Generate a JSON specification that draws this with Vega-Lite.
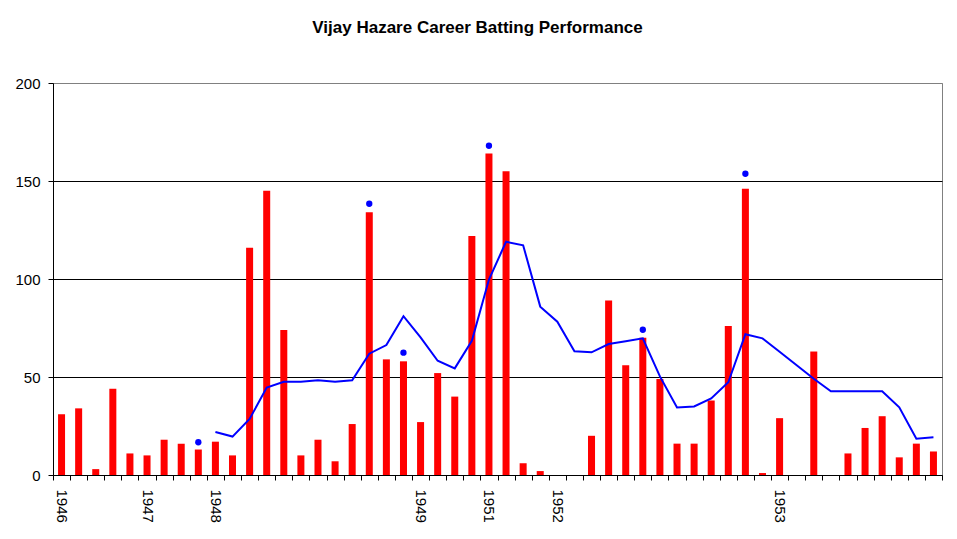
{
  "$schema": "https://vega.github.io/schema/vega-lite/v6.json",
  "description": "Vijay Hazare career batting performance",
  "autosize": "none",
  "width": 889,
  "height": 392,
  "padding": {"left": 53, "top": 83, "right": 15, "bottom": 64},
  "background": "white",
  "title": {
    "text": "Vijay Hazare Career Batting Performance",
    "font": "Liberation Sans",
    "fontSize": 17,
    "fontWeight": "bold",
    "color": "black",
    "anchor": "middle",
    "baseline": "alphabetic",
    "offset": 26,
    "dx": -20
  },
  "config": {
    "view": {"stroke": "#808080", "strokeWidth": 1},
    "axis": {
      "labelFont": "Liberation Sans",
      "labelFontSize": 15,
      "labelColor": "black",
      "domainColor": "black",
      "tickColor": "black",
      "tickSize": 5
    }
  },
  "data": {
    "values": [
      {"inn": 1, "score": 31, "marker": null, "avg": null},
      {"inn": 2, "score": 34, "marker": null, "avg": null},
      {"inn": 3, "score": 3, "marker": null, "avg": null},
      {"inn": 4, "score": 44, "marker": null, "avg": null},
      {"inn": 5, "score": 11, "marker": null, "avg": null},
      {"inn": 6, "score": 10, "marker": null, "avg": null},
      {"inn": 7, "score": 18, "marker": null, "avg": null},
      {"inn": 8, "score": 16, "marker": null, "avg": null},
      {"inn": 9, "score": 13, "marker": 16.7, "avg": null},
      {"inn": 10, "score": 17, "marker": null, "avg": 21.9},
      {"inn": 11, "score": 10, "marker": null, "avg": 19.6},
      {"inn": 12, "score": 116, "marker": null, "avg": 28.6},
      {"inn": 13, "score": 145, "marker": null, "avg": 44.6},
      {"inn": 14, "score": 74, "marker": null, "avg": 47.6},
      {"inn": 15, "score": 10, "marker": null, "avg": 47.6},
      {"inn": 16, "score": 18, "marker": null, "avg": 48.3},
      {"inn": 17, "score": 7, "marker": null, "avg": 47.6},
      {"inn": 18, "score": 26, "marker": null, "avg": 48.3},
      {"inn": 19, "score": 134, "marker": 138.4, "avg": 61.9},
      {"inn": 20, "score": 59, "marker": null, "avg": 66.3},
      {"inn": 21, "score": 58, "marker": 62.4, "avg": 81},
      {"inn": 22, "score": 27, "marker": null, "avg": 70.2},
      {"inn": 23, "score": 52, "marker": null, "avg": 58.3},
      {"inn": 24, "score": 40, "marker": null, "avg": 54.4},
      {"inn": 25, "score": 122, "marker": null, "avg": 68.5},
      {"inn": 26, "score": 164, "marker": 168, "avg": 99.7},
      {"inn": 27, "score": 155, "marker": null, "avg": 119},
      {"inn": 28, "score": 6, "marker": null, "avg": 117.2},
      {"inn": 29, "score": 2, "marker": null, "avg": 85.9},
      {"inn": 30, "score": 0, "marker": null, "avg": 78.2},
      {"inn": 31, "score": 0, "marker": null, "avg": 63.1},
      {"inn": 32, "score": 20, "marker": null, "avg": 62.6},
      {"inn": 33, "score": 89, "marker": null, "avg": 66.8},
      {"inn": 34, "score": 56, "marker": null, "avg": 68.2},
      {"inn": 35, "score": 70, "marker": 74.1, "avg": 69.7},
      {"inn": 36, "score": 49, "marker": null, "avg": 50.3},
      {"inn": 37, "score": 16, "marker": null, "avg": 34.5},
      {"inn": 38, "score": 16, "marker": null, "avg": 35},
      {"inn": 39, "score": 38, "marker": null, "avg": 39.1},
      {"inn": 40, "score": 76, "marker": null, "avg": 47.3},
      {"inn": 41, "score": 146, "marker": 153.7, "avg": 71.8},
      {"inn": 42, "score": 1, "marker": null, "avg": 69.7},
      {"inn": 43, "score": 29, "marker": null, "avg": 62.9},
      {"inn": 44, "score": 0, "marker": null, "avg": 56},
      {"inn": 45, "score": 63, "marker": null, "avg": 49.1},
      {"inn": 46, "score": 0, "marker": null, "avg": 42.7},
      {"inn": 47, "score": 11, "marker": null, "avg": 42.7},
      {"inn": 48, "score": 24, "marker": null, "avg": 42.7},
      {"inn": 49, "score": 30, "marker": null, "avg": 42.7},
      {"inn": 50, "score": 9, "marker": null, "avg": 34.5},
      {"inn": 51, "score": 16, "marker": null, "avg": 18.5},
      {"inn": 52, "score": 12, "marker": null, "avg": 19.2}
    ]
  },
  "encoding": {
    "x": {
      "field": "inn",
      "type": "ordinal",
      "scale": {"paddingInner": 0, "paddingOuter": 0},
      "axis": {
        "title": null,
        "labelAngle": 90,
        "labelAlign": "left",
        "labelBaseline": "middle",
        "labelPadding": 9,
        "labelOverlap": false,
        "tickBand": "extent",
        "grid": false,
        "labelExpr": "datum.value == 1 ? '1946' : datum.value == 6 ? '1947' : datum.value == 10 ? '1948' : datum.value == 22 ? '1949' : datum.value == 26 ? '1951' : datum.value == 30 ? '1952' : datum.value == 43 ? '1953' : ''"
      }
    }
  },
  "layer": [
    {
      "mark": {"type": "bar", "color": "#FF0000", "width": {"band": 0.41}},
      "encoding": {
        "y": {
          "field": "score",
          "type": "quantitative",
          "scale": {"domain": [0, 200]},
          "axis": {
            "title": null,
            "values": [0, 50, 100, 150, 200],
            "grid": true,
            "gridColor": {"condition": {"test": "datum.value === 200", "value": "#808080"}, "value": "black"},
            "gridOpacity": 1,
            "labelPadding": 8
          }
        }
      }
    },
    {
      "mark": {"type": "line", "color": "#0000FF", "strokeWidth": 2},
      "encoding": {
        "y": {"field": "avg", "type": "quantitative"}
      }
    },
    {
      "mark": {"type": "circle", "color": "#0000FF", "size": 40, "opacity": 1},
      "encoding": {
        "y": {"field": "marker", "type": "quantitative"}
      }
    }
  ]
}
